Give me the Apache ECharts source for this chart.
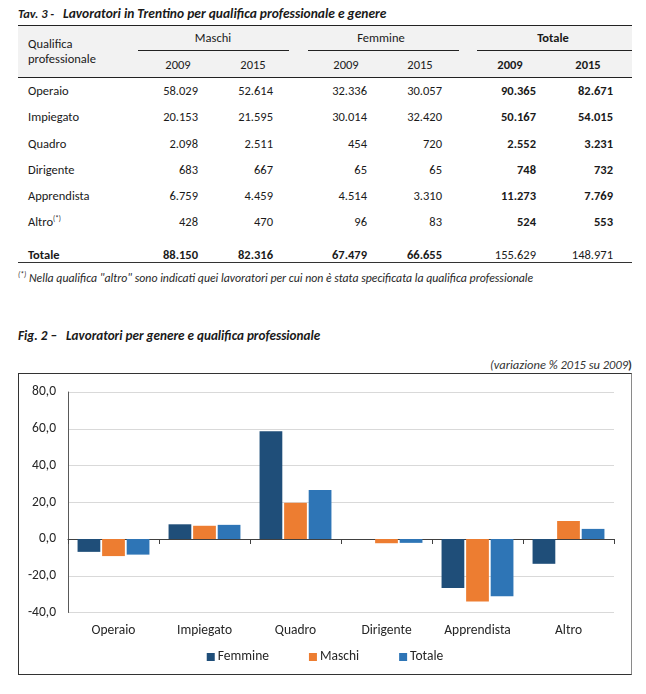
<!DOCTYPE html>
<html>
<head>
<meta charset="utf-8">
<script src="https://cdn.jsdelivr.net/npm/echarts@6/dist/echarts.min.js"></script>
<style>
  html, body { margin:0; padding:0; background:#fff; }
  body { width:646px; height:694px; position:relative; overflow:hidden;
         font-family: Carlito, Lato, "Noto Sans", sans-serif; color:#1a1a1a; }
  .t { position:absolute; white-space:nowrap; height:16px; line-height:16px; font-size:12.5px; }
  .hl { position:absolute; height:1px; background:#222; }
  #chart { position:absolute; left:18px; top:373px; width:612px; height:300px;
           border:1px solid #333; border-right-color:#8a8a8a; }
</style>
</head>
<body>
<div id="page"></div>
<div id="chart"></div>
<script>
// ---------- Table data ----------
const tableRows = ['Operaio','Impiegato','Quadro','Dirigente','Apprendista','Altro'];
const maschi2009 = [58029, 20153, 2098, 683, 6759, 428];
const maschi2015 = [52614, 21595, 2511, 667, 4459, 470];
const femmine2009 = [32336, 30014, 454, 65, 4514, 96];
const femmine2015 = [30057, 32420, 720, 65, 3310, 83];
const totale2009 = [90365, 50167, 2552, 748, 11273, 524];
const totale2015 = [82671, 54015, 3231, 732, 7769, 553];
const totaleRow = [88150, 82316, 67479, 66655, 155629, 148971];
const groupHeaders = ['Maschi','Femmine','Totale'];
const yearHeaders = ['2009','2015'];

// ---------- Chart data ----------
const categories = ['Operaio','Impiegato','Quadro','Dirigente','Apprendista','Altro'];
const femmine = [-7.0, 8.0, 58.6, 0.0, -26.7, -13.5];
const maschi = [-9.3, 7.2, 19.7, -2.3, -34.0, 9.8];
const totale = [-8.5, 7.7, 26.6, -2.1, -31.1, 5.5];
const yTicks = [-40, -20, 0, 20, 40, 60, 80];

// ---------- helpers ----------
const page = document.getElementById('page');
function fmt(n){ return String(n).replace(/\B(?=(\d{3})+(?!\d))/g, '.'); }
function txt(html, x, y, align, style){
  const d = document.createElement('div');
  d.className = 't';
  d.innerHTML = html;
  d.style.top = (y - 8) + 'px';
  if (align === 'right') { d.style.right = (646 - x) + 'px'; }
  else if (align === 'center') { d.style.left = (x - 60) + 'px'; d.style.width = '120px'; d.style.textAlign = 'center'; }
  else { d.style.left = x + 'px'; }
  if (style) Object.assign(d.style, style);
  page.appendChild(d);
  return d;
}
function hline(x1, x2, y, color){
  const d = document.createElement('div');
  d.className = 'hl';
  d.style.left = x1 + 'px'; d.style.width = (x2 - x1) + 'px'; d.style.top = y + 'px';
  if (color) d.style.background = color;
  page.appendChild(d);
}

// ---------- Table ----------
const bi = {fontWeight:'bold', fontStyle:'italic', fontSize:'13.5px'};
txt('Tav. 3 -', 18, 14, 'left', {fontWeight:'bold', fontStyle:'italic', fontSize:'12.5px'});
txt('Lavoratori in Trentino per qualifica professionale e genere', 63, 14, 'left', bi);

const bg = document.createElement('div');
Object.assign(bg.style, {position:'absolute', left:'18px', top:'25px', width:'614px', height:'52px', background:'#f2f2f2'});
page.appendChild(bg);
hline(18, 632, 25);
hline(18, 632, 77);

txt('Qualifica', 28, 44, 'left');
txt('professionale', 28, 59, 'left');

const groupCenters = [213, 381, 553];
const groupLines = [[138, 289], [308, 459], [477, 632]];
groupHeaders.forEach((g, i) => {
  txt(g, groupCenters[i], 38, 'center', i === 2 ? {fontWeight:'bold'} : null);
  hline(groupLines[i][0], groupLines[i][1], 50);
});
const headCenters = [178, 253, 346, 420, 510, 588];
const numRight = [198, 273, 367, 442, 536, 613];
headCenters.forEach((c, i) => {
  txt(yearHeaders[i % 2], c, 65, 'center', i >= 4 ? {fontWeight:'bold'} : null);
});

const rowY = [91, 117, 144, 170, 196, 222];
const cols = [maschi2009, maschi2015, femmine2009, femmine2015, totale2009, totale2015];
tableRows.forEach((r, ri) => {
  const label = r === 'Altro' ? 'Altro<sup style="font-size:7px;vertical-align:5px;line-height:0">(*)</sup>' : r;
  txt(label, 28, rowY[ri], 'left');
  cols.forEach((col, ci) => {
    txt(fmt(col[ri]), numRight[ci], rowY[ri], 'right', ci >= 4 ? {fontWeight:'bold'} : null);
  });
});
txt('Totale', 28, 255, 'left', {fontWeight:'bold'});
totaleRow.forEach((v, ci) => {
  txt(fmt(v), numRight[ci], 255, 'right', ci < 4 ? {fontWeight:'bold'} : null);
});
hline(18, 632, 262, '#333');

txt('<sup style="font-size:7.5px;vertical-align:5px;line-height:0">(*)</sup> Nella qualifica "altro" sono indicati quei lavoratori per cui non è stata specificata la qualifica professionale',
    18, 278, 'left', {fontStyle:'italic', fontSize:'11.8px', color:'#262626'});

// ---------- Figure titles ----------
txt('Fig. 2 –', 18, 336, 'left', {fontWeight:'bold', fontStyle:'italic', fontSize:'13.2px'});
txt('Lavoratori per genere e qualifica professionale', 66, 336, 'left', {fontWeight:'bold', fontStyle:'italic', fontSize:'13.2px'});
txt('(variazione % 2015 su 2009<b style="font-style:normal">)</b>', 632, 365, 'right', {fontStyle:'italic', fontSize:'12.5px', color:'#333'});

// ---------- Chart ----------
const FONT = 'Carlito, Lato, "Noto Sans", sans-serif';
const chart = echarts.init(document.getElementById('chart'), null, {renderer:'canvas'});
chart.setOption({
  animation: false,
  textStyle: { fontFamily: FONT },
  grid: { left: 49, right: 17, top: 18, bottom: 61.5 },
  legend: {
    data: ['Femmine','Maschi','Totale'],
    left: 'center', top: 276, padding: 0,
    icon: 'rect', itemWidth: 8, itemHeight: 8, itemGap: 40,
    textStyle: { fontSize: 13.5, color: '#262626', fontFamily: FONT, padding:[0,0,0,-2] }
  },
  xAxis: [
    {
      type: 'category', data: categories,
      axisLine: { onZero: true, lineStyle: { color: '#404040', width: 1 } },
      axisTick: { show: true, length: 5, lineStyle: { color: '#404040' } },
      axisLabel: { show: false },
      splitLine: { show: false }
    },
    {
      type: 'category', data: categories, position: 'bottom',
      axisLine: { show: false }, axisTick: { show: false },
      axisLabel: { margin: 11, fontSize: 13.5, color: '#262626', fontFamily: FONT },
      splitLine: { show: false }
    }
  ],
  yAxis: {
    type: 'value', min: yTicks[0], max: yTicks[yTicks.length - 1], interval: 20,
    axisLine: { show: true, lineStyle: { color: '#595959' } },
    axisTick: { show: false },
    splitLine: { lineStyle: { color: '#d9d9d9' } },
    axisLabel: {
      margin: 12, fontSize: 13.5, color: '#262626', fontFamily: FONT,
      formatter: v => v.toFixed(1).replace('.', ',')
    }
  },
  series: [
    { name: 'Femmine', type: 'bar', data: femmine, xAxisIndex: 0, barGap: '8%', barCategoryGap: '21%',
      itemStyle: { color: '#1f4e79' } },
    { name: 'Maschi', type: 'bar', data: maschi, xAxisIndex: 0, barGap: '8%', barCategoryGap: '21%',
      itemStyle: { color: '#ed7d31' } },
    { name: 'Totale', type: 'bar', data: totale, xAxisIndex: 0, barGap: '8%', barCategoryGap: '21%',
      itemStyle: { color: '#2e75b6' } }
  ]
});
</script>
</body>
</html>
